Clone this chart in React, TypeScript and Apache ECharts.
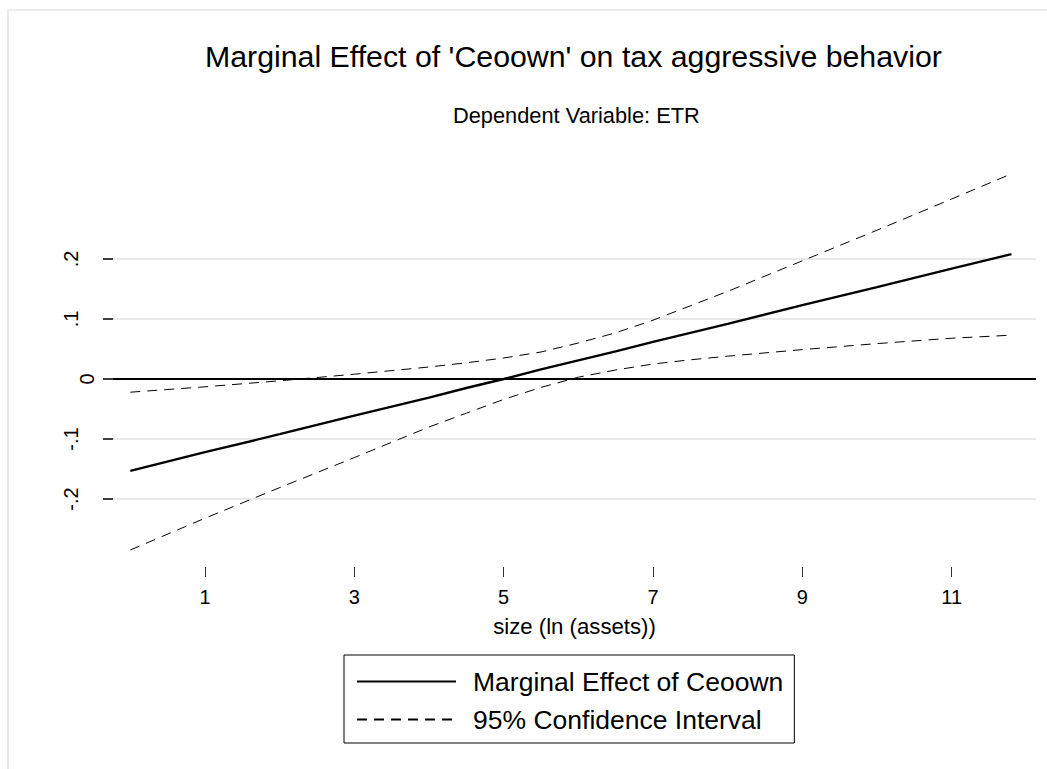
import { useEffect, useRef } from "react";
import * as echarts from "echarts";

// Values
const xValues = [0, 1, 2, 3, 4, 4.5, 5, 5.5, 6, 6.5, 7, 7.5, 8, 9, 10, 11, 11.8];
const marginalEffect = [-0.153, -0.122, -0.092, -0.061, -0.031, -0.015, 0.0, 0.016, 0.031, 0.046, 0.062, 0.077, 0.092, 0.123, 0.153, 0.184, 0.208];
const upperCI = [-0.022, -0.013, -0.003, 0.008, 0.02, 0.027, 0.035, 0.045, 0.06, 0.077, 0.098, 0.122, 0.146, 0.197, 0.248, 0.3, 0.342];
const lowerCI = [-0.285, -0.232, -0.181, -0.131, -0.08, -0.057, -0.034, -0.014, 0.003, 0.015, 0.025, 0.032, 0.038, 0.049, 0.059, 0.068, 0.073];

const xTicks = [1, 3, 5, 7, 9, 11];
const xTickLabels = ["1", "3", "5", "7", "9", "11"];
const yTicks = [-0.2, -0.1, 0, 0.1, 0.2];
const yTickLabels = ["-.2", "-.1", "0", ".1", ".2"];

const titleText = "Marginal Effect of 'Ceoown' on tax aggressive behavior";
const subtitleText = "Dependent Variable: ETR";
const xAxisTitle = "size (ln (assets))";
const meName = "Marginal Effect of Ceoown";
const ciName = "95% Confidence Interval";

const FONT = "'Liberation Sans', Arial, Helvetica, sans-serif";

export default function App() {
  const ref = useRef<HTMLDivElement>(null);
  useEffect(() => {
    document.body.style.margin = "0";
    if (!ref.current) return;
    const chart = echarts.init(ref.current, undefined, { renderer: "svg" });
    const pairs = (ys: number[]) => xValues.map((x, i) => [x, ys[i]]);
    const xMin = -0.232;
    const xMax = 12.129;
    const yMin = -0.31333;
    const yMax = 0.34833;
    const hidden = { show: false };
    const invisible = { color: "rgba(0,0,0,0)", opacity: 0 };

    // tick-label carriers placed through the axes' own scales
    const xLabelItems = xTicks.map((t, i) => ({ value: [t, yMin], name: xTickLabels[i] }));
    const yLabelItems = yTicks.map((t, i) => ({
      value: [xMin, t],
      name: yTickLabels[i],
      label: { distance: t === 0 ? 16 : 31.5 },
    }));

    chart.setOption({
      animation: false,
      backgroundColor: "#ffffff",
      graphic: [
        {
          type: "rect",
          shape: { x: 8, y: 10, width: 1100, height: 800 },
          style: { fill: "none", stroke: "#ebebeb", lineWidth: 2 },
          silent: true,
          z: -1,
        },
      ],
      title: [
        {
          text: titleText,
          left: 205,
          top: 41.5,
          padding: 0,
          textStyle: { fontFamily: FONT, fontSize: 30.3, fontWeight: "normal", color: "#000" },
        },
        {
          text: subtitleText,
          left: 453,
          top: 104,
          padding: 0,
          textStyle: { fontFamily: FONT, fontSize: 21.8, fontWeight: "normal", color: "#000" },
        },
      ],
      legend: {
        data: [meName, ciName],
        orient: "vertical",
        left: 344,
        top: 655,
        padding: [13, 11, 10, 12],
        borderColor: "#000",
        borderWidth: 1,
        itemWidth: 99,
        itemHeight: 14,
        itemGap: 11,
        selectedMode: false,
        itemStyle: { opacity: 0 },
        textStyle: { fontFamily: FONT, fontSize: 26.5, color: "#000", padding: [0, 0, 0, 12] },
      },
      grid: { left: 113, right: 1047 - 1036, top: 170, bottom: 769 - 567 },
      xAxis: {
        type: "value",
        min: xMin,
        max: xMax,
        name: xAxisTitle,
        nameLocation: "middle",
        nameGap: 48,
        nameTextStyle: { fontFamily: FONT, fontSize: 22.2, color: "#000" },
        axisLine: { show: false, onZero: false },
        axisTick: { show: true, length: 10, customValues: xTicks, lineStyle: { color: "#333", width: 1 } },
        axisLabel: hidden,
        splitLine: hidden,
      },
      yAxis: {
        type: "value",
        min: yMin,
        max: yMax,
        axisLine: { show: false, onZero: false },
        axisTick: { show: true, length: 10, customValues: yTicks, lineStyle: { color: "#000", width: 1.5 } },
        axisLabel: hidden,
        splitLine: { show: true, lineStyle: { color: "#e9e9e9", width: 2 } },
      },
      series: [
        {
          name: meName,
          type: "line",
          data: pairs(marginalEffect),
          showSymbol: false,
          symbol: "none",
          lineStyle: { color: "#000", width: 2.4, type: "solid" },
          itemStyle: { color: "#000" },
          z: 3,
          markLine: {
            silent: true,
            symbol: "none",
            label: { show: false },
            lineStyle: { color: "#000", width: 2, type: "solid" },
            data: [{ yAxis: 0 }],
          },
        },
        {
          name: ciName,
          type: "line",
          data: pairs(upperCI),
          showSymbol: false,
          symbol: "none",
          lineStyle: { color: "#000", width: 1, type: [10, 7] },
          itemStyle: { color: "#000" },
          z: 2,
        },
        {
          name: ciName,
          type: "line",
          data: pairs(lowerCI),
          showSymbol: false,
          symbol: "none",
          lineStyle: { color: "#000", width: 1, type: [10, 7] },
          itemStyle: { color: "#000" },
          z: 2,
        },
        {
          name: "x tick labels",
          type: "scatter",
          data: xLabelItems,
          symbolSize: 1,
          clip: false,
          silent: true,
          itemStyle: invisible,
          label: {
            show: true,
            position: "bottom",
            distance: 19,
            formatter: (p: any) => p.name,
            fontFamily: FONT,
            fontSize: 20,
            color: "#000",
            opacity: 1,
          },
        },
        {
          name: "y tick labels",
          type: "scatter",
          data: yLabelItems,
          symbolSize: 1,
          clip: false,
          silent: true,
          itemStyle: invisible,
          label: {
            show: true,
            position: "left",
            distance: 31.5,
            rotate: 90,
            align: "center",
            verticalAlign: "bottom",
            formatter: (p: any) => p.name,
            fontFamily: FONT,
            fontSize: 20,
            color: "#000",
            opacity: 1,
          },
        },
      ],
    });
    return () => chart.dispose();
  }, []);
  return <div ref={ref} style={{ width: 1047, height: 769 }} />;
}
